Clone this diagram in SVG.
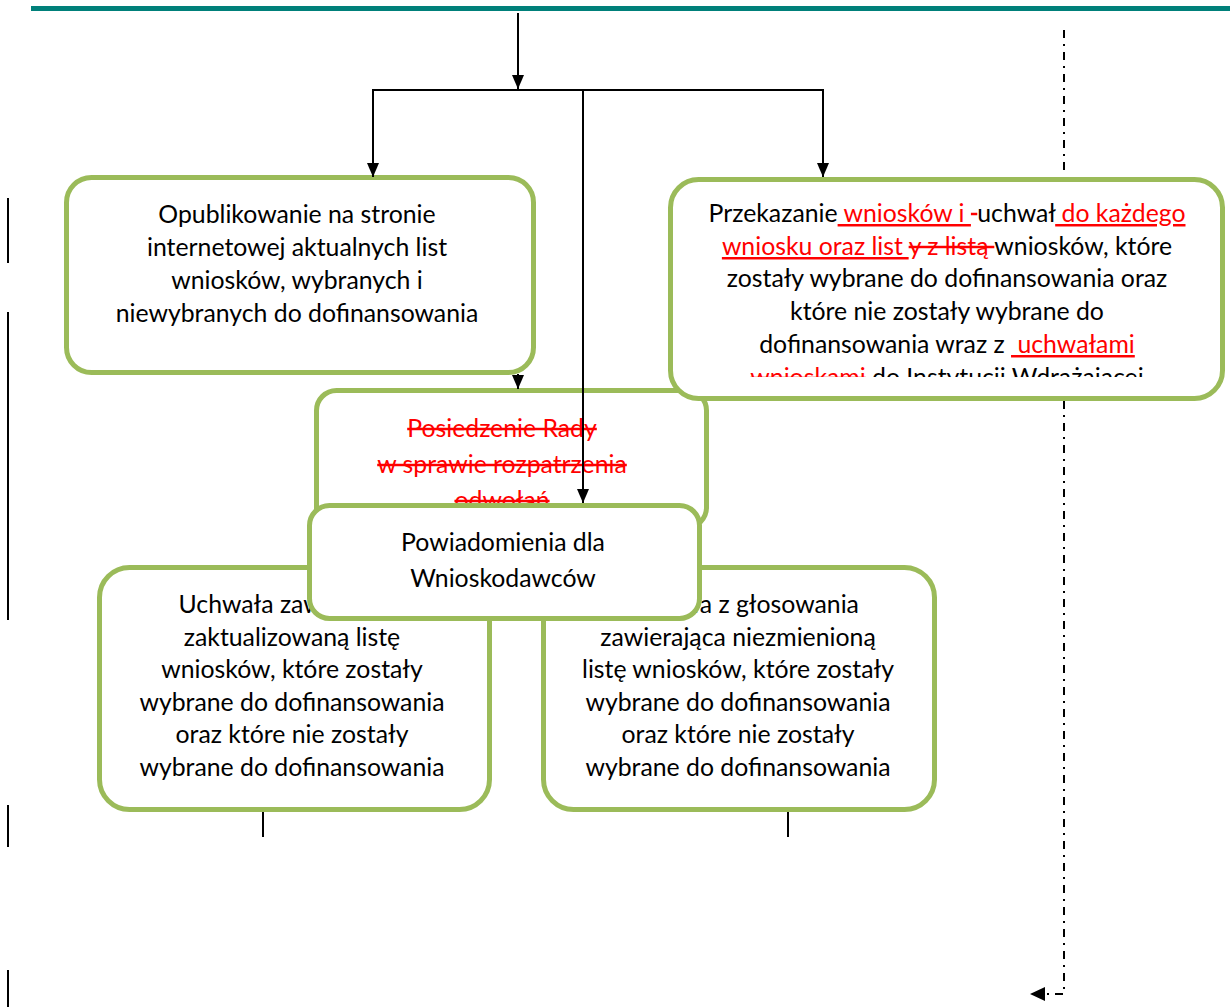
<svg xmlns="http://www.w3.org/2000/svg" width="1230" height="1007" viewBox="0 0 1230 1007">
<style>
.box{fill:#ffffff;stroke:#9bbb59;stroke-width:5}
.t{font-family:Lato,"Liberation Sans",sans-serif;font-size:24.8px;fill:#000000;text-anchor:middle}
.red{fill:#ff0000}
.u{text-decoration:underline}
.s{text-decoration:line-through}
.ln{stroke:#000000;stroke-width:2;fill:none}
.dd{stroke:#000000;stroke-width:2;fill:none;stroke-dasharray:8 6 2 6}
</style>
<defs>
<marker id="ah" markerUnits="userSpaceOnUse" markerWidth="14" markerHeight="12" refX="14" refY="6" orient="auto">
<path d="M0,0 L14,6 L0,12 Z" fill="#000000"/>
</marker>
<marker id="ah2" markerUnits="userSpaceOnUse" markerWidth="15" markerHeight="14" refX="15" refY="7" orient="auto">
<path d="M0,0 L15,7 L0,14 Z" fill="#000000"/>
</marker>
<clipPath id="rclip"><rect x="672" y="180" width="550" height="197"/></clipPath>
</defs>
<rect x="31" y="6" width="1199" height="5" fill="#00807a"/>
<g id="margin-lines">
<line class="ln" x1="8" y1="198" x2="8" y2="263"/>
<line class="ln" x1="8" y1="312" x2="8" y2="620"/>
<line class="ln" x1="8" y1="805" x2="8" y2="847"/>
<line class="ln" x1="8" y1="970" x2="8" y2="1007"/>
</g>
<g id="node-publish">
<rect class="box" x="66.5" y="177.5" width="467" height="195" rx="25"/>
<text class="t" x="297" y="223">Opublikowanie na stronie</text>
<text class="t" x="297" y="256">internetowej aktualnych list</text>
<text class="t" x="297" y="289">wniosków, wybranych i</text>
<text class="t" x="297" y="322">niewybranych do dofinansowania</text>
</g>
<g id="node-posiedzenie">
<rect class="box" x="316.5" y="390.5" width="390" height="137" rx="20"/>
<text class="t red s" x="502" y="437">Posiedzenie Rady</text>
<text class="t red s" x="502" y="473">w sprawie rozpatrzenia</text>
<text class="t red s" x="502" y="509">odwołań</text>
</g>
<g id="node-przekazanie">
<rect class="box" x="670.5" y="179.5" width="552" height="219" rx="28"/>
<g clip-path="url(#rclip)">
<text class="t" x="947" y="222" xml:space="preserve">Przekazanie<tspan class="red u"> wniosków i </tspan><tspan class="red s"> </tspan>uchwał<tspan class="red u"> do każdego</tspan></text>
<text class="t" x="947" y="255" xml:space="preserve"><tspan class="red u">wniosku oraz list </tspan><tspan class="red s">y z listą </tspan>wniosków, które</text>
<text class="t" x="947" y="287">zostały wybrane do dofinansowania oraz</text>
<text class="t" x="947" y="320">które nie zostały wybrane do</text>
<text class="t" x="947" y="353" xml:space="preserve">dofinansowania wraz z <tspan class="red u"> uchwałami</tspan></text>
<text class="t" x="947" y="386" xml:space="preserve"><tspan class="red s">wnioskami</tspan> do Instytucji Wdrażającej</text>
</g>
</g>
<g id="connectors">
<line class="ln" x1="518" y1="13" x2="518" y2="89" marker-end="url(#ah)"/>
<line class="ln" x1="372" y1="90" x2="824" y2="90"/>
<line class="ln" x1="373" y1="90" x2="373" y2="177" marker-end="url(#ah)"/>
<line class="ln" x1="823" y1="90" x2="823" y2="177" marker-end="url(#ah)"/>
<line class="ln" x1="583" y1="90" x2="583" y2="503" marker-end="url(#ah)"/>
<line class="ln" x1="518" y1="374" x2="518" y2="389" marker-end="url(#ah)"/>
<line class="dd" x1="1064" y1="30" x2="1064" y2="174"/>
<path class="dd" d="M1064,401 L1064,994 L1030,994" marker-end="url(#ah2)"/>
<line class="ln" x1="263" y1="812" x2="263" y2="837"/>
<line class="ln" x1="788" y1="812" x2="788" y2="837"/>
</g>
<g id="node-uchwala-zaktualizowana">
<rect class="box" x="99.5" y="567.5" width="390" height="242" rx="30"/>
<text class="t" x="292" y="613">Uchwała zawierająca</text>
<text class="t" x="292" y="646">zaktualizowaną listę</text>
<text class="t" x="292" y="678">wniosków, które zostały</text>
<text class="t" x="292" y="711">wybrane do dofinansowania</text>
<text class="t" x="292" y="743">oraz które nie zostały</text>
<text class="t" x="292" y="776">wybrane do dofinansowania</text>
</g>
<g id="node-uchwala-niezmieniona">
<rect class="box" x="543.5" y="567.5" width="391" height="242" rx="30"/>
<text class="t" x="738" y="613">Uchwała z głosowania</text>
<text class="t" x="738" y="646">zawierająca niezmienioną</text>
<text class="t" x="738" y="678">listę wniosków, które zostały</text>
<text class="t" x="738" y="711">wybrane do dofinansowania</text>
<text class="t" x="738" y="743">oraz które nie zostały</text>
<text class="t" x="738" y="776">wybrane do dofinansowania</text>
</g>
<g id="node-powiadomienia">
<rect class="box" x="309.5" y="505.5" width="390" height="113" rx="20"/>
<text class="t" x="503" y="551">Powiadomienia dla</text>
<text class="t" x="503" y="587">Wnioskodawców</text>
</g>
</svg>
